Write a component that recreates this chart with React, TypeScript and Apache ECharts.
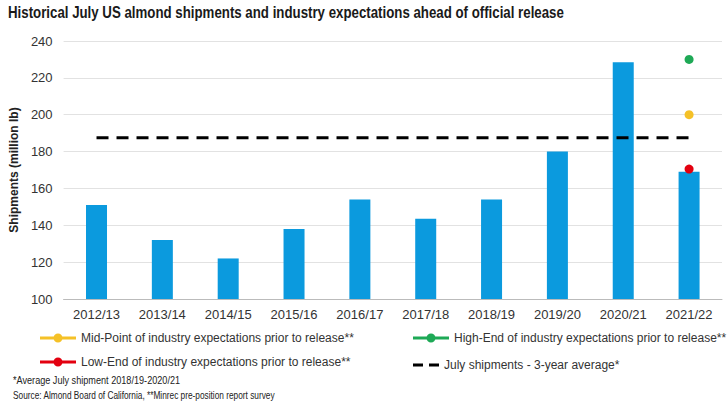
import React, { useEffect, useRef } from "react";
import * as echarts from "echarts";

const categories = ["2012/13", "2013/14", "2014/15", "2015/16", "2016/17", "2017/18", "2018/19", "2019/20", "2020/21", "2021/22"];
const shipments = [151, 132, 122, 138, 154, 143.5, 154, 180, 228.5, 169];
const midPoint = [null, null, null, null, null, null, null, null, null, 200];
const highEnd = [null, null, null, null, null, null, null, null, null, 230];
const lowEnd = [null, null, null, null, null, null, null, null, null, 170.5];
const threeYearAvg = [187.5, 187.5, 187.5, 187.5, 187.5, 187.5, 187.5, 187.5, 187.5, 187.5];

const TITLE = "Historical July US almond shipments and industry expectations ahead of official release";
const NAMES = {
  mid: "Mid-Point of industry expectations prior to release**",
  high: "High-End of industry expectations prior to release**",
  low: "Low-End of industry expectations prior to release**",
  avg: "July shipments - 3-year average*",
};
const NOTE1 = "*Average July shipment 2018/19-2020/21";
const NOTE2 = "Source: Almond Board of California, **Minrec pre-position report survey";

const SANS = "'Liberation Sans', Arial, sans-serif";
const DOT_ICON = "path://M0,5.5H36V8.5H0Z M13.5,7a4.5,4.5 0 1,1 9,0a4.5,4.5 0 1,1 -9,0Z";
const DASH_ICON = "path://M0,0H10V3H0Z M16,0H26V3H16Z";

export default function App() {
  const ref = useRef<HTMLDivElement>(null);
  useEffect(() => {
    document.body.style.margin = "0";
    const chart = echarts.init(ref.current!, null, { renderer: "svg" });
    const legendBase = {
      orient: "horizontal",
      padding: 0,
      itemWidth: 36,
      itemHeight: 9,
      icon: DOT_ICON,
      textStyle: { fontFamily: SANS, fontSize: 12, color: "#333" },
      selectedMode: false,
    };
    const lineSeries = (name: string, data: (number | null)[], color: string) => ({
      name,
      type: "line",
      data,
      symbol: "circle",
      symbolSize: 9,
      showSymbol: true,
      itemStyle: { color },
      lineStyle: { color, width: 3 },
      z: 5,
    });
    chart.setOption({
      animation: false,
      backgroundColor: "#fff",
      grid: { left: 63, right: 6, top: 41, bottom: 109, containLabel: false },
      xAxis: {
        type: "category",
        data: categories,
        axisLine: { lineStyle: { color: "#bbb" } },
        axisTick: { show: false },
        axisLabel: { fontFamily: SANS, fontSize: 13, color: "#333", margin: 9 },
      },
      yAxis: {
        type: "value",
        min: 100,
        max: 240,
        interval: 20,
        name: "Shipments (million lb)",
        nameLocation: "middle",
        nameGap: 43,
        nameTextStyle: { fontFamily: SANS, fontSize: 12, fontWeight: "bold", color: "#222" },
        axisLine: { show: false },
        axisTick: { show: false },
        axisLabel: { fontFamily: SANS, fontSize: 13, color: "#333", margin: 11 },
        splitLine: { lineStyle: { color: "#e2e2e2" } },
      },
      legend: [
        { ...legendBase, left: 40, top: 332, data: [NAMES.mid] },
        { ...legendBase, left: 413, top: 332, data: [NAMES.high] },
        { ...legendBase, left: 40, top: 356, data: [NAMES.low] },
        { ...legendBase, left: 413, top: 359, itemWidth: 26, itemHeight: 3, icon: DASH_ICON, data: [NAMES.avg] },
      ],
      series: [
        {
          name: "July shipments",
          type: "bar",
          data: shipments,
          barWidth: 21,
          itemStyle: { color: "#0b9ade" },
        },
        lineSeries(NAMES.mid, midPoint, "#f5c127"),
        lineSeries(NAMES.high, highEnd, "#1ea956"),
        lineSeries(NAMES.low, lowEnd, "#e3000f"),
        {
          name: NAMES.avg,
          type: "line",
          data: threeYearAvg,
          symbol: "none",
          itemStyle: { color: "#000" },
          lineStyle: { color: "#000", width: 3, type: [12, 8] },
          z: 4,
        },
      ],
      graphic: [
        {
          type: "text",
          x: 8,
          y: 5,
          scaleX: 0.83,
          style: {
            text: "Historical July US almond shipments and industry expectations ahead of official release",
            fontFamily: SANS,
            fontSize: 16,
            fontWeight: "bold",
            fill: "#1a1a1a",
            textVerticalAlign: "top",
          },
        },
        {
          type: "text",
          x: 13,
          y: 375,
          scaleX: 0.83,
          style: { text: NOTE1, fontFamily: SANS, fontSize: 11, fill: "#222", textVerticalAlign: "top" },
        },
        {
          type: "text",
          x: 13,
          y: 391,
          scaleX: 0.83,
          style: { text: NOTE2, fontFamily: SANS, fontSize: 10, fill: "#222", textVerticalAlign: "top" },
        },
      ],
    });
    return () => chart.dispose();
  }, []);
  return <div ref={ref} style={{ width: 728, height: 408 }} />;
}
